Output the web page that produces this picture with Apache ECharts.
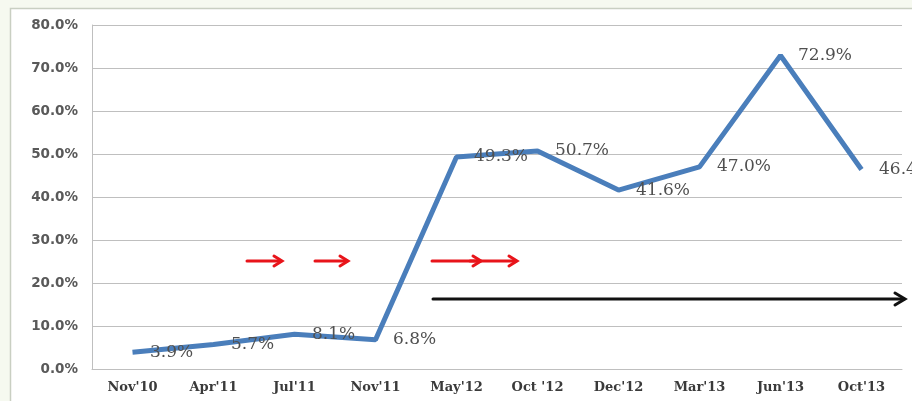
<!DOCTYPE html>
<html><head><meta charset="utf-8">
<script src="https://cdn.jsdelivr.net/npm/echarts@6/dist/echarts.min.js"></script>
<style>html,body{margin:0;padding:0;background:#f6f9f0;}#c{width:912px;height:401px;}</style>
</head><body><div id="c"></div>
<script>
const categories = ["Nov'10","Apr'11","Jul'11","Nov'11","May'12","Oct '12","Dec'12","Mar'13","Jun'13","Oct'13"];
const values = [3.9, 5.7, 8.1, 6.8, 49.3, 50.7, 41.6, 47.0, 72.9, 46.4];

function arrow(x1, x2, y, color, w, hl, hh) {
  return [
    {type:'line', z:50, shape:{x1:x1,y1:y,x2:x2-1,y2:y}, style:{stroke:color,lineWidth:w,lineCap:'round'}},
    {type:'polyline', z:50, shape:{points:[[x2-hl,y-hh],[x2,y],[x2-hl,y+hh]]}, style:{stroke:color,lineWidth:w,fill:null,lineJoin:'miter',lineCap:'round'}}
  ];
}

const chart = echarts.init(document.getElementById('c'));
chart.setOption({
  backgroundColor: 'transparent',
  animation: false,
  grid: {left: 92, right: 10, top: 25, bottom: 32},
  graphic: [
    {type:'rect', z:-10, shape:{x:10.5,y:8.5,width:920,height:420}, style:{fill:'#ffffff',stroke:'#c9cfc2',lineWidth:1.5}},
    ...arrow(247, 282, 261, '#e8141a', 3, 8, 5),
    ...arrow(315, 348, 261, '#e8141a', 3, 8, 5),
    ...arrow(432, 481, 261, '#e8141a', 3, 8, 5),
    ...arrow(470, 517, 261, '#e8141a', 3, 8, 5),
    ...arrow(433, 905, 299, '#111111', 3, 10, 6)
  ],
  xAxis: {
    type: 'category',
    data: categories,
    boundaryGap: true,
    axisLine: {show: true, lineStyle: {color: '#bfbfbf', width: 1}},
    axisTick: {show: false},
    axisLabel: {color: '#3a3a3a', fontFamily: 'DejaVu Serif', fontWeight: 'bold', fontSize: 13, margin: 12}
  },
  yAxis: {
    type: 'value',
    min: 0, max: 80, interval: 10,
    axisLine: {show: true, lineStyle: {color: '#bfbfbf', width: 1}},
    axisTick: {show: false},
    splitLine: {show: true, lineStyle: {color: '#bfbfbf', width: 1}},
    axisLabel: {color: '#595959', fontFamily: 'DejaVu Sans', fontWeight: 'bold', fontSize: 13.5, margin: 14,
      formatter: v => v.toFixed(1) + '%'}
  },
  series: [{
    type: 'line',
    data: values,
    symbol: 'circle',
    symbolSize: 1,
    showSymbol: true,
    itemStyle: {color: 'rgba(0,0,0,0)', borderWidth: 0},
    lineStyle: {color: '#4a7ebb', width: 5},
    label: {
      show: true, position: 'right', distance: 17, offset: [0, 2],
      color: '#505050', fontFamily: 'DejaVu Serif', fontSize: 17,
      formatter: p => p.value.toFixed(1) + '%'
    },
    labelLayout: {hideOverlap: false}
  }]
});
</script></body></html>
